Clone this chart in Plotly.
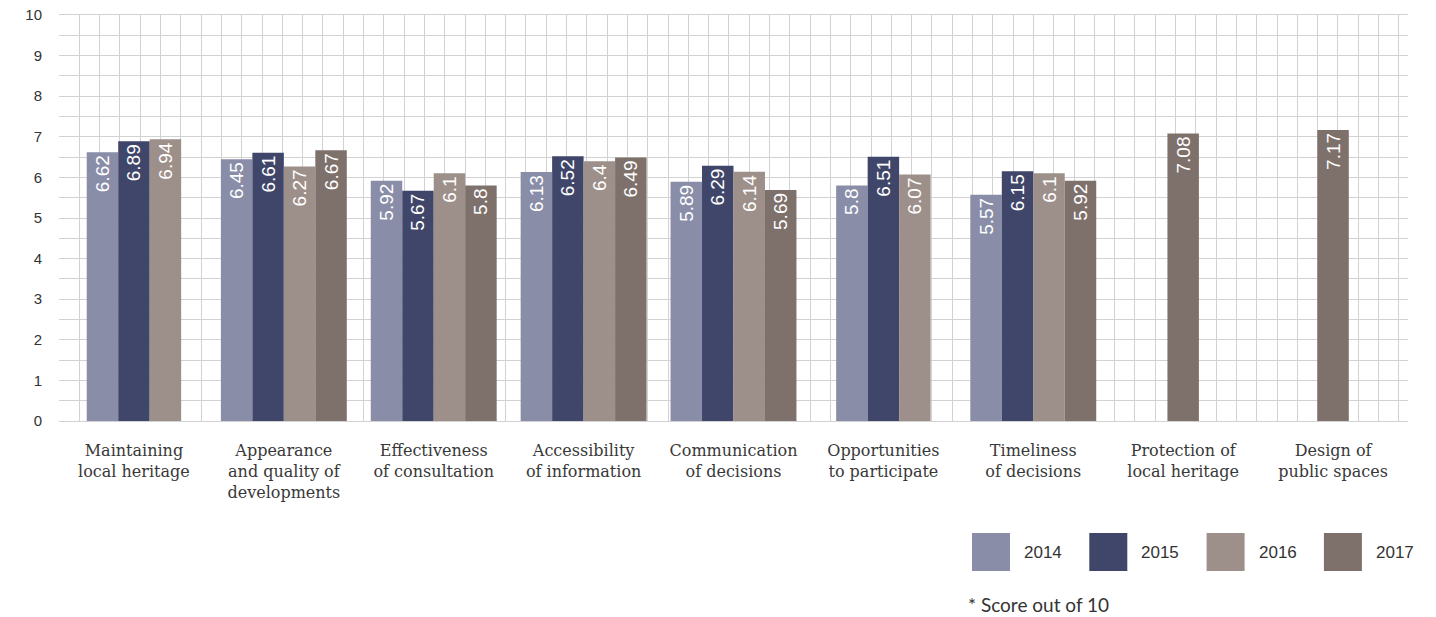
import plotly.graph_objects as go

# Survey scores by topic and year (score out of 10)
categories = [
    "Maintaining<br>local heritage",
    "Appearance<br>and quality of<br>developments",
    "Effectiveness<br>of consultation",
    "Accessibility<br>of information",
    "Communication<br>of decisions",
    "Opportunities<br>to participate",
    "Timeliness<br>of decisions",
    "Protection of<br>local heritage",
    "Design of<br>public spaces",
]
years = ["2014", "2015", "2016", "2017"]
scores_2014 = [6.62, 6.45, 5.92, 6.13, 5.89, 5.80, 5.57, None, None]
scores_2015 = [6.89, 6.61, 5.67, 6.52, 6.29, 6.51, 6.15, None, None]
scores_2016 = [6.94, 6.27, 6.10, 6.40, 6.14, 6.07, 6.10, None, None]
scores_2017 = [None, 6.67, 5.80, 6.49, 5.69, None, 5.92, 7.08, 7.17]
y_ticks = list(range(0, 11))
footnote = "* Score out of 10"

series = [scores_2014, scores_2015, scores_2016, scores_2017]
colors = ["#898da8", "#3f4669", "#9d908a", "#7e706b"]

# figure geometry (pixels)
W, H = 1436, 617
ML, MR, MT, MB = 59, 28, 15, 196
plot_w = W - ML - MR
plot_h = H - MT - MB
bar_w = 0.21  # in category units

GRID = "#d2d2d2"
SANS = "Liberation Sans, Arial, sans-serif"
SERIF = "DejaVu Serif, serif"

# centre the bars present in each category
offsets = [[0.0] * len(categories) for _ in series]
for i in range(len(categories)):
    present = [k for k, s in enumerate(series) if s[i] is not None]
    n = len(present)
    for j, k in enumerate(present):
        offsets[k][i] = -n * bar_w / 2 + j * bar_w

fig = go.Figure()
for k, (name, vals, col) in enumerate(zip(years, series, colors)):
    fig.add_trace(go.Bar(
        x=categories,
        y=vals,
        name=name,
        width=bar_w,
        offset=offsets[k],
        marker=dict(color=col, line=dict(width=0)),
        texttemplate="%{y}",
        textposition="inside",
        insidetextanchor="end",
        textangle=-90,
        constraintext="none",
        textfont=dict(family=SANS, size=19, color="white"),
        showlegend=False,
        cliponaxis=False,
    ))

# square grid cells: vertical lines on a helper axis with the same pixel spacing
cell_px = plot_h / 20.0
fig.add_trace(go.Scatter(x=[], y=[], xaxis="x2", yaxis="y", showlegend=False, hoverinfo="skip"))

fig.update_layout(
    width=W,
    height=H,
    margin=dict(l=ML, r=MR, t=MT, b=MB, autoexpand=False),
    barmode="overlay",
    showlegend=False,
    plot_bgcolor="white",
    paper_bgcolor="white",
    xaxis=dict(
        type="category",
        automargin=False,
        showgrid=False,
        showline=False,
        zeroline=False,
        ticks="",
        tickfont=dict(family=SERIF, size=16, color="#383838"),
        ticklabelstandoff=18,
    ),
    xaxis2=dict(
        overlaying="x",
        automargin=False,
        range=[0, plot_w / cell_px],
        autorange=False,
        tick0=0,
        dtick=1,
        showgrid=True,
        gridcolor=GRID,
        gridwidth=1,
        showticklabels=False,
        zeroline=False,
        showline=True,
        mirror=True,
        linecolor=GRID,
        linewidth=1,
        side="bottom",
        anchor="y",
    ),
    yaxis=dict(
        range=[0, 10],
        autorange=False,
        automargin=False,
        tickvals=y_ticks,
        showgrid=True,
        gridcolor=GRID,
        gridwidth=1,
        zeroline=False,
        tickfont=dict(family=SANS, size=15, color="#333333"),
        ticklabelstandoff=16,
        minor=dict(dtick=0.5, showgrid=True, gridcolor=GRID, gridwidth=1),
    ),
    font=dict(family=SANS, color="#333333"),
)


def px_x(px):
    return (px - ML) / plot_w


def px_y(py):
    return (H - MB - py) / plot_h


# legend: large swatches with year labels
shapes = []
annotations = []
sw_left = 972
sw_step = 117.3
sw_size = 38
sw_top = 533
for k, (name, col) in enumerate(zip(years, colors)):
    x0 = sw_left + k * sw_step
    shapes.append(dict(
        type="rect", xref="paper", yref="paper",
        x0=px_x(x0), x1=px_x(x0 + sw_size),
        y0=px_y(sw_top + sw_size), y1=px_y(sw_top),
        fillcolor=col, line=dict(width=0), layer="above",
    ))
    annotations.append(dict(
        text=name, xref="paper", yref="paper",
        x=px_x(x0 + 50), y=px_y(sw_top + sw_size / 2),
        xanchor="left", yanchor="middle", showarrow=False,
        font=dict(family=SANS, size=17, color="#333333"),
    ))

annotations.append(dict(
    text=footnote, xref="paper", yref="paper",
    x=px_x(966), y=px_y(604),
    xanchor="left", yanchor="middle", showarrow=False,
    font=dict(family="Lato, sans-serif", size=19, color="#333333"),
))

fig.update_layout(shapes=shapes, annotations=annotations)

fig.write_html("out.html")
